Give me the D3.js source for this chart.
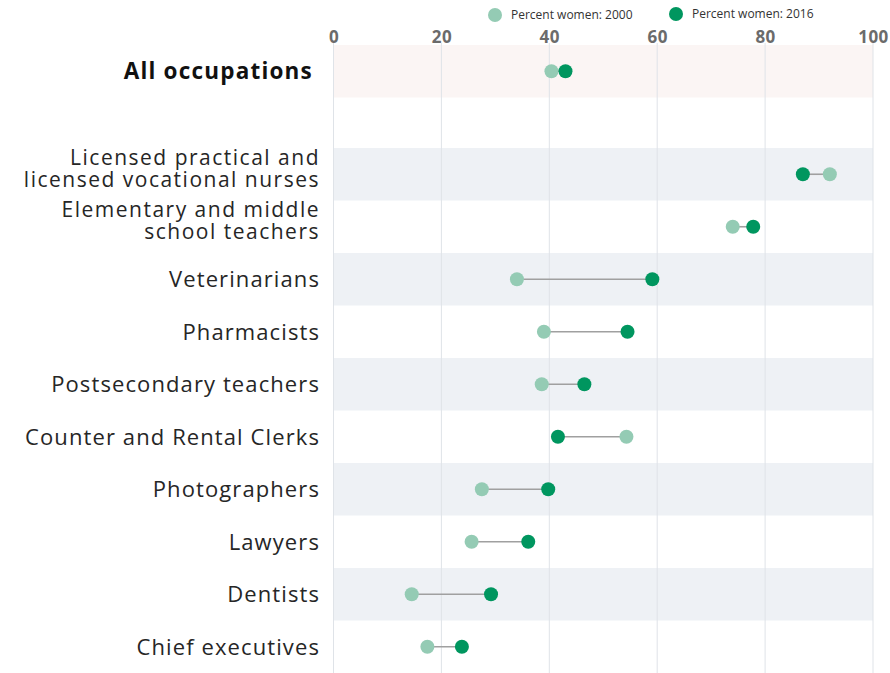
<!DOCTYPE html>
<html>
<head>
<meta charset="utf-8">
<script src="https://cdn.jsdelivr.net/npm/d3@7"></script>
<style>
  body { margin: 0; background: #fff; }
  svg { display: block; font-family: "Open Sans", Lato, sans-serif; }
</style>
</head>
<body>
<svg id="chart" width="890" height="673"></svg>
<script>
// occupations, top to bottom ("" is the empty slot under the total row)
const occupations = [
    "All occupations", "",
    "Licensed practical and\nlicensed vocational nurses",
    "Elementary and middle\nschool teachers",
    "Veterinarians",
    "Pharmacists",
    "Postsecondary teachers",
    "Counter and Rental Clerks",
    "Photographers",
    "Lawyers",
    "Dentists",
    "Chief executives"
];
const women2000 = [40.4, null, 92.0, 74.0, 34.0, 39.0, 38.6, 54.3, 27.5, 25.6, 14.5, 17.4];
const women2016 = [43.0, null, 87.0, 77.8, 59.1, 54.5, 46.5, 41.6, 39.8, 36.1, 29.2, 23.8];
const xTicks = [0, 20, 40, 60, 80, 100];
const seriesNames = ["Percent women: 2000", "Percent women: 2016"];

const colLight = "#94cbb4";
const colDark = "#00965f";

const svg = d3.select("#chart");

const x = d3.scaleLinear().domain([0, 100]).range([333.5, 873]);
const y = d3.scaleBand().domain(occupations).range([43, 673]).padding(0);

const rows = occupations.map((name, i) => ({ name, i, a: women2000[i], b: women2016[i] }))
    .filter(d => d.name !== "");

const rowY = d => y(d.name) + y.bandwidth() / 2 + (d.i === 0 ? 2 : 0);

// row backgrounds
svg.append("g").selectAll("rect")
    .data(rows.filter((d, k) => k === 0 || k % 2 === 1))
    .enter()
    .append("rect")
    .attr("x", x(0))
    .attr("width", x(100) - x(0))
    .attr("y", d => y(d.name) + (d.i === 0 ? 2 : 0))
    .attr("height", y.bandwidth())
    .style("fill", d => d.i === 0 ? "#fbf5f4" : "#eef1f5");

// gridlines
svg.append("g").selectAll("line")
    .data(xTicks)
    .enter()
    .append("line")
    .attr("x1", d => x(d)).attr("x2", d => x(d))
    .attr("y1", 43).attr("y2", 673)
    .style("stroke", "#dfe3e8")
    .style("stroke-width", "1px");

// top axis
const axis = svg.append("g")
    .attr("transform", "translate(0,44)")
    .call(d3.axisTop(x).tickValues(xTicks).tickSize(0).tickPadding(1));
axis.select(".domain").remove();
axis.selectAll("text")
    .style("font-family", "\"Open Sans\", sans-serif")
    .style("font-size", "17px")
    .style("font-weight", "700")
    .style("letter-spacing", "0.5px")
    .style("fill", "#6b6b6b");

// labels
const labels = svg.append("g").selectAll("text")
    .data(rows)
    .enter()
    .append("text")
    .attr("text-anchor", "end")
    .style("font-size", d => d.i === 0 ? "22.5px" : (d.name.includes("\n") ? "21px" : "22px"))
    .style("font-weight", d => d.i === 0 ? "700" : "400")
    .style("letter-spacing", d => d.i === 0 ? "1.2px" : (d.name.includes("\n") ? "1.5px" : "1.1px"))
    .style("fill", d => d.i === 0 ? "#111" : "#262626");

labels.each(function (d) {
    const lines = d.name.split("\n");
    const t = d3.select(this);
    lines.forEach((line, k) => {
        const off = lines.length === 1 ? 0 : (k === 0 ? -17 : 5);
        t.append("tspan")
            .attr("x", d.i === 0 ? 313 : 320)
            .attr("y", rowY(d) + off)
            .attr("dy", "0.36em")
            .text(line);
    });
});

// connectors
svg.append("g").selectAll("line")
    .data(rows)
    .enter()
    .append("line")
    .attr("x1", d => x(d.a)).attr("x2", d => x(d.b))
    .attr("y1", rowY)
    .attr("y2", rowY)
    .style("stroke", "#a0a0a0")
    .style("stroke-width", "1.6px");

// dots
const dots = svg.append("g");
dots.selectAll(".d2000")
    .data(rows)
    .enter()
    .append("circle")
    .attr("class", "d2000")
    .attr("cx", d => x(d.a))
    .attr("cy", rowY)
    .attr("r", 7)
    .style("fill", colLight);
dots.selectAll(".d2016")
    .data(rows)
    .enter()
    .append("circle")
    .attr("class", "d2016")
    .attr("cx", d => x(d.b))
    .attr("cy", rowY)
    .attr("r", 7)
    .style("fill", colDark);

// legend
const legendX = [495, 676];
const legend = svg.append("g").selectAll("g")
    .data(seriesNames)
    .enter()
    .append("g")
    .attr("transform", (d, i) => "translate(" + legendX[i] + "," + (i === 0 ? 15 : 14) + ")");
legend.append("circle")
    .attr("r", 7)
    .style("fill", (d, i) => i === 0 ? colLight : colDark);
legend.append("text")
    .attr("x", 16)
    .attr("dy", "0.35em")
    .style("font-size", "12px")
    .style("fill", "#333")
    .text(d => d);
</script>
</body>
</html>
